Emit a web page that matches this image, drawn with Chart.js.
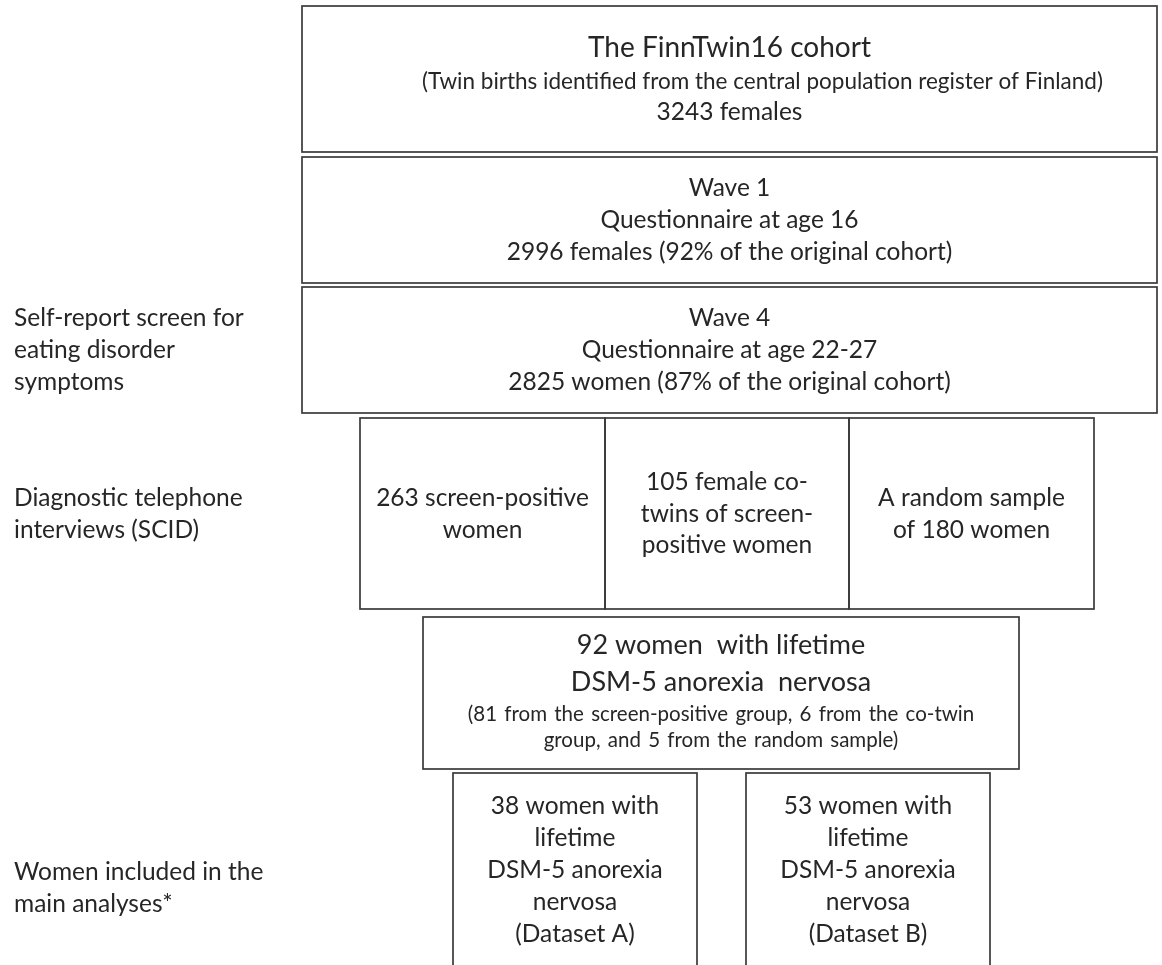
<!DOCTYPE html>
<html>
<head>
<meta charset="utf-8">
<script src="https://cdn.jsdelivr.net/npm/chart.js@4.4.1/dist/chart.umd.min.js"></script>
<style>
  html, body { margin: 0; padding: 0; background: #ffffff; }
  #wrap { width: 1162px; height: 965px; }
</style>
</head>
<body>
<div id="wrap"><canvas id="c" width="1162" height="965"></canvas></div>
<script>
// ---- data: flowchart boxes (in the chart's own coordinate units) ----
const boxLeft   = [302, 302, 302, 360, 605, 849, 423, 453, 746];
const boxRight  = [1157, 1157, 1157, 605, 849, 1094, 1019, 697, 990];
const boxTop    = [6, 157, 287, 418, 418, 418, 617, 773, 773];
const boxBottom = [152, 283, 413, 609, 609, 609, 769, 967, 967];

const boxTexts = [
  ["The FinnTwin16 cohort", "(Twin births identified from the central population register of Finland)", "3243 females"],
  ["Wave 1", "Questionnaire at age 16", "2996 females (92% of the original cohort)"],
  ["Wave 4", "Questionnaire at age 22-27", "2825 women (87% of the original cohort)"],
  ["263 screen-positive", "women"],
  ["105 female co-", "twins of screen-", "positive women"],
  ["A random sample", "of 180 women"],
  ["92 women  with lifetime", "DSM-5 anorexia  nervosa", "(81 from the screen-positive group, 6 from the co-twin", "group, and 5 from the random sample)"],
  ["38 women with", "lifetime", "DSM-5 anorexia", "nervosa", "(Dataset A)"],
  ["53 women with", "lifetime", "DSM-5 anorexia", "nervosa", "(Dataset B)"]
];

const stageLabels = [
  ["Self-report screen for", "eating disorder", "symptoms"],
  ["Diagnostic telephone", "interviews (SCID)"],
  ["Women included in the", "main analyses*"]
];
const stageLabelY = [350, 513.5, 888];
const stageLabelX = [14, 14, 14];

// ---- styles (kept apart from the data) ----
const FONT = "Lato, 'Open Sans', sans-serif";
const TEXT_COLOR = "#262626";
const BORDER_COLOR = "#3a3a3a";
const BASE_SIZE = 24.5;
const BASE_ADVANCE = 31.85;
const lineSizes = [
  [28, 22.5, 24.5], null, null, null, null, null,
  [27, 27, 20.5, 20.5], null, null
];
const lineAdvances = [
  [32, 31], null, null, null, null, null,
  [37, 30, 26], null, null
];
const lineShiftX = [
  [0, 33, 0], null, null, null, null, null, null, null, null
];
const lineWordSpacing = [
  null, null, null, null, null, null,
  [0, 0, 2, 2], null, null
];

function drawBlock(ctx, lines, sizes, advances, shifts, spacing, cx, cy, align) {
  const n = lines.length;
  const adv = [];
  let total = 0;
  for (let i = 0; i < n - 1; i++) {
    const a = advances ? advances[i] : BASE_ADVANCE;
    adv.push(a); total += a;
  }
  const avg = sizes.reduce((s, v) => s + v, 0) / n;
  let y = cy - total / 2 + 0.33 * avg;
  ctx.textAlign = align;
  ctx.textBaseline = 'alphabetic';
  for (let i = 0; i < n; i++) {
    ctx.font = sizes[i] + "px " + FONT;
    if ('wordSpacing' in ctx) ctx.wordSpacing = ((spacing && spacing[i]) || 0) + 'px';
    ctx.fillText(lines[i], cx + ((shifts && shifts[i]) || 0), y);
    if (i < n - 1) y += adv[i];
  }
  if ('wordSpacing' in ctx) ctx.wordSpacing = '0px';
}

const flowPlugin = {
  id: 'flow',
  beforeDraw(chart) {
    const ctx = chart.ctx;
    ctx.save();
    ctx.fillStyle = '#ffffff';
    ctx.fillRect(0, 0, chart.width, chart.height);
    ctx.restore();
  },
  afterDatasetsDraw(chart) {
    const ctx = chart.ctx;
    const xs = chart.scales.x, ys = chart.scales.y;
    ctx.save();
    ctx.strokeStyle = BORDER_COLOR;
    ctx.lineWidth = 1.7;
    ctx.fillStyle = TEXT_COLOR;
    for (let b = 0; b < boxLeft.length; b++) {
      const x0 = xs.getPixelForValue(boxLeft[b]);
      const x1 = xs.getPixelForValue(boxRight[b]);
      const y0 = ys.getPixelForValue(boxTop[b]);
      const y1 = ys.getPixelForValue(boxBottom[b]);
      ctx.strokeRect(x0, y0, x1 - x0, y1 - y0);
      const lines = boxTexts[b];
      const sizes = lineSizes[b] || lines.map(() => BASE_SIZE);
      drawBlock(ctx, lines, sizes, lineAdvances[b], lineShiftX[b], lineWordSpacing[b],
        (x0 + x1) / 2, (y0 + y1) / 2 + (b === 0 ? 1.5 : 0), 'center');
    }
    for (let s = 0; s < stageLabels.length; s++) {
      const lines = stageLabels[s];
      drawBlock(ctx, lines, lines.map(() => BASE_SIZE), null, null, null,
        xs.getPixelForValue(stageLabelX[s]), ys.getPixelForValue(stageLabelY[s]), 'left');
    }
    ctx.restore();
  }
};

const centers = boxLeft.map((l, i) => ({ x: (l + boxRight[i]) / 2, y: (boxTop[i] + boxBottom[i]) / 2 }));

new Chart(document.getElementById('c'), {
  type: 'scatter',
  data: { datasets: [{ data: centers, pointRadius: 0, showLine: false }] },
  options: {
    responsive: false,
    animation: false,
    devicePixelRatio: 1,
    layout: { padding: 0 },
    plugins: { legend: { display: false }, tooltip: { enabled: false } },
    scales: {
      x: { type: 'linear', min: 0, max: 1162, display: false },
      y: { type: 'linear', min: 0, max: 965, reverse: true, display: false }
    }
  },
  plugins: [flowPlugin]
});
</script>
</body>
</html>
